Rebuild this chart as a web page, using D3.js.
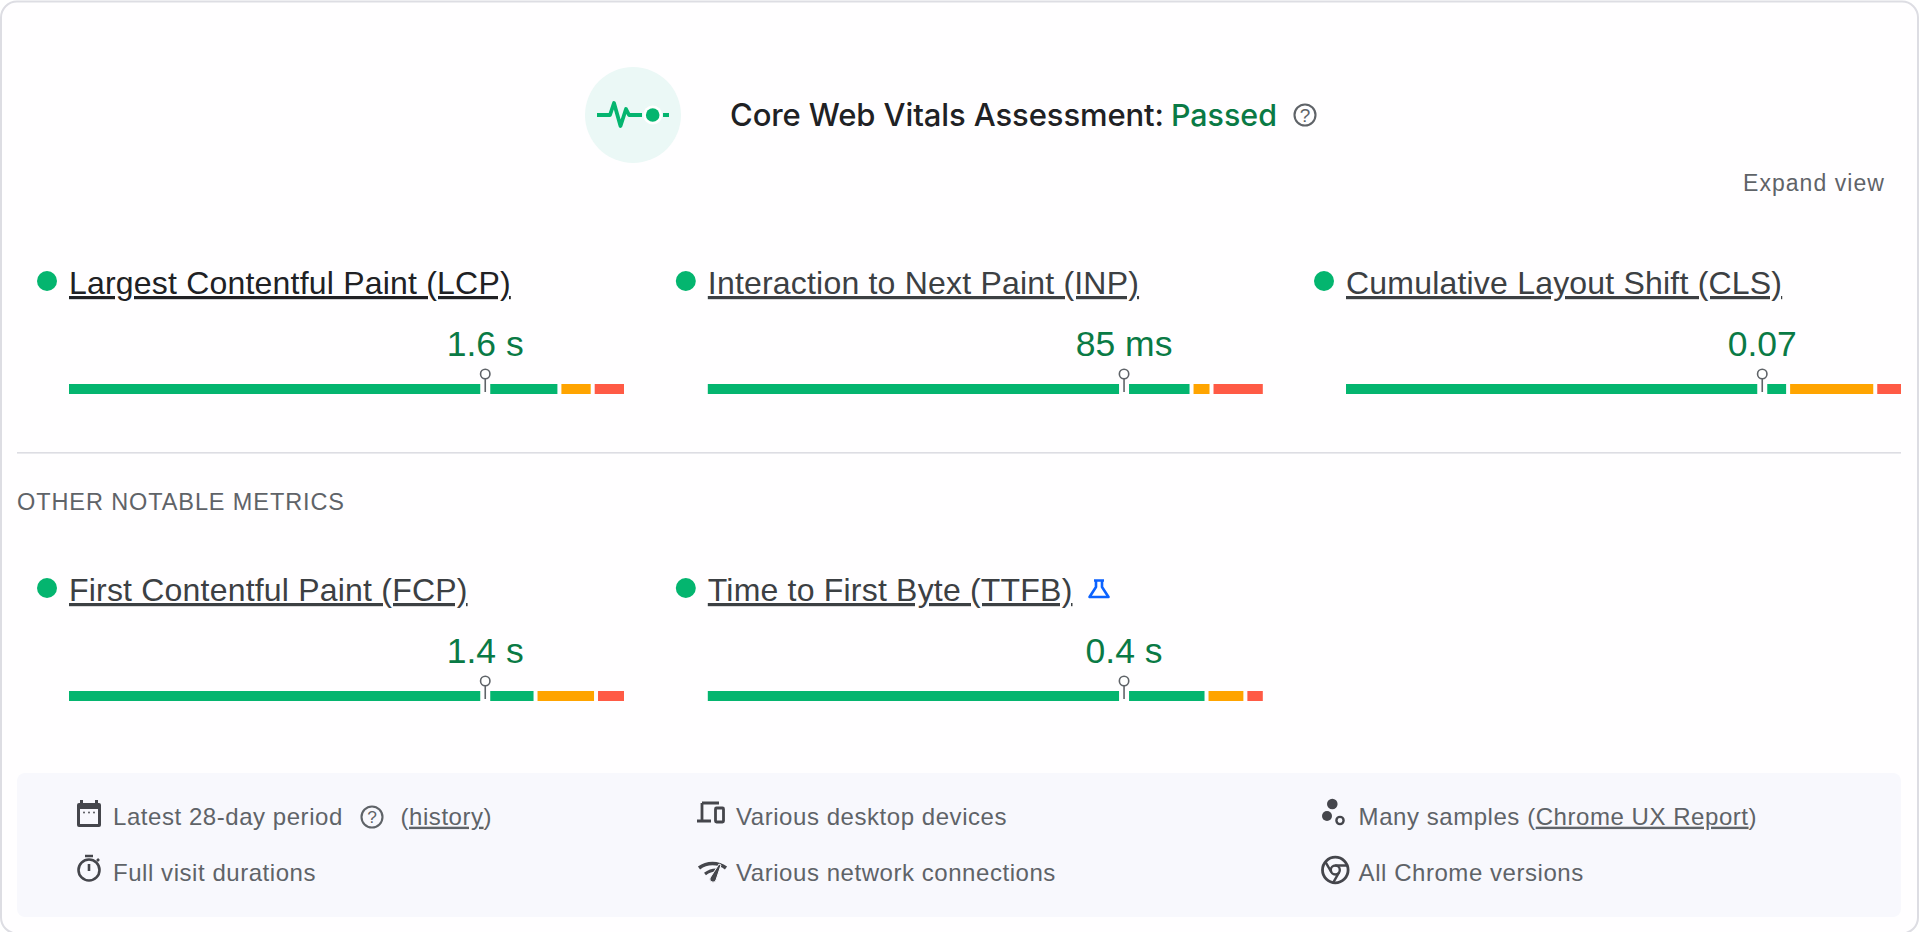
<!DOCTYPE html>
<html lang="en">
<head>
  <meta charset="UTF-8">
  <title>Core Web Vitals</title>
  <style>
    html, body { margin: 0; padding: 0; background: #fff; overflow: hidden; }
    svg { display: block; }
    text { font-family: "Liberation Sans", Arial, sans-serif; }
    .ul { text-decoration: underline; text-decoration-thickness: 2.4px; text-underline-offset: 3.5px; }
  </style>
</head>
<body>
<svg width="1920" height="932"></svg>

<script src="https://cdn.jsdelivr.net/npm/d3@7"></script>
<script>
  // data
  var metricNames = ["Largest Contentful Paint (LCP)", "Interaction to Next Paint (INP)", "Cumulative Layout Shift (CLS)", "First Contentful Paint (FCP)", "Time to First Byte (TTFB)"];
  var metricValues = ["1.6 s", "85 ms", "0.07", "1.4 s", "0.4 s"];
  var goodShare = [88, 86.8, 79.3, 83.7, 89.5];
  var improveShare = [6, 3.6, 15.7, 10.9, 7];
  var poorShare = [6, 9.6, 5, 5.4, 3.5];
  var percentile = 75;

  // layout
  var colX = [69, 707.8, 1346], rowBarY = [384, 691], barW = 555, barH = 10;
  var green = "#04b56f", orange = "#ffa400", red = "#ff5a45", valueGreen = "#0a7a45", grey = "#5f6368", dark = "#45464c";
  var x = d3.scaleLinear().domain([0, 100]).range([0, barW]);
  var footSize = 24, footGap = 0.55;

  var svg = d3.select("svg");

  function txt(g, s, px, py, size, fill, spacing) {
    return g.append("text").attr("x", px).attr("y", py).attr("font-size", size)
      .attr("fill", fill).attr("letter-spacing", spacing || 0).text(s);
  }

  // card
  svg.append("rect").attr("x", 1).attr("y", 1.5).attr("width", 1917).attr("height", 932).attr("rx", 16)
    .attr("fill", "#fffeff").attr("stroke", "#dddde3").attr("stroke-width", 2);

  // header
  var head = svg.append("g");
  head.append("circle").attr("cx", 633).attr("cy", 115).attr("r", 48).attr("fill", "#ebf8f6");
  head.append("path").attr("d", d3.line()([[597, 115], [610, 115], [614, 103], [620.5, 126], [626, 109], [629, 115], [642, 115]]))
    .attr("fill", "none").attr("stroke", green).attr("stroke-width", 3.8).attr("stroke-linejoin", "round");
  head.append("circle").attr("cx", 652.7).attr("cy", 115).attr("r", 9.5).attr("fill", "#fff");
  head.append("circle").attr("cx", 652.7).attr("cy", 115).attr("r", 6.8).attr("fill", green);
  head.append("rect").attr("x", 663).attr("y", 113).attr("width", 6).attr("height", 4).attr("fill", green);

  txt(head, "Core Web Vitals Assessment:", 730, 126, 31, "#202124", -0.1).attr("font-weight", 500).style("font-family", "Inter");
  txt(head, "Passed", 1171, 126, 30.4, valueGreen, 0).attr("font-weight", 500).style("font-family", "Inter");
  helpIcon(head, 1305, 115, 10.5, 23);
  txt(svg, "Expand view", 1743, 191, 23, grey, 1.05);

  // bars
  var metric = svg.selectAll("g.metric").data(metricNames).enter().append("g").attr("class", "metric")
    .attr("transform", function (d, i) { return "translate(" + colX[i % 3] + "," + rowBarY[Math.floor(i / 3)] + ")"; });

  metric.append("circle").attr("cx", -22).attr("cy", -103).attr("r", 10).attr("fill", green);
  metric.append("text").attr("class", "ul").attr("x", 0).attr("y", -90).attr("font-size", 32).attr("letter-spacing", 0.2)
    .attr("fill", function (d, i) { return i == 0 ? "#202124" : "#3c4043"; }).text(function (d) { return d; });
  metric.append("text").attr("x", x(percentile)).attr("y", -28).attr("text-anchor", "middle")
    .attr("font-size", 35.5).attr("fill", valueGreen)
    .text(function (d, i) { return metricValues[i]; });

  metric.each(function (d, i) {
    var g = d3.select(this);
    var a = goodShare[i], b = a + improveShare[i], c = b + poorShare[i];
    // good part is split around the percentile marker
    var segs = [
      [0, x(percentile) - 5, green],
      [x(percentile) + 5, x(a), green],
      [x(a) + 4, x(b), orange],
      [x(b) + 4, x(c), red]
    ];
    g.selectAll("rect").data(segs).enter().append("rect")
      .attr("x", function (s) { return s[0]; }).attr("y", 0)
      .attr("width", function (s) { return s[1] - s[0]; }).attr("height", barH)
      .attr("fill", function (s) { return s[2]; });
    g.append("line").attr("x1", x(percentile)).attr("x2", x(percentile)).attr("y1", -5).attr("y2", 8)
      .attr("stroke", grey).attr("stroke-width", 1.6);
    g.append("circle").attr("cx", x(percentile)).attr("cy", -10).attr("r", 4.7)
      .attr("fill", "#fff").attr("stroke", grey).attr("stroke-width", 1.6);
  });

  // flask next to TTFB
  svg.append("path").attr("d", "M1094 580.5h10M1096 581v6l-6.5 10h19l-6.5-10v-6")
    .attr("fill", "none").attr("stroke", "#0b62ff").attr("stroke-width", 2.6).attr("stroke-linejoin", "round");

  // divider + sub heading
  svg.append("rect").attr("x", 17).attr("y", 452).attr("width", 1884).attr("height", 1.6).attr("fill", "#dddde3");
  txt(svg, "OTHER NOTABLE METRICS", 17, 509.5, 23.5, grey, 0.9);

  // footer panel
  svg.append("rect").attr("x", 17).attr("y", 773).attr("width", 1884).attr("height", 144).attr("rx", 8).attr("fill", "#f8f8fd");

  var foot = svg.append("g");
  var row1 = 824.7, row2 = 881;
  txt(foot, "Latest 28-day period", 113, row1, footSize, grey, footGap);
  helpIcon(foot, 372, 817, 10.5, 21);
  var hist = txt(foot, "(", 400.5, row1, footSize, grey, footGap);
  hist.append("tspan").attr("class", "ul").text("history");
  hist.append("tspan").text(")");
  txt(foot, "Full visit durations", 113, row2, footSize, grey, footGap);
  txt(foot, "Various desktop devices", 736, row1, footSize, grey, footGap);
  txt(foot, "Various network connections", 736, row2, footSize, grey, footGap);
  var many = txt(foot, "Many samples (", 1358.6, row1, footSize, grey, footGap);
  many.append("tspan").attr("class", "ul").text("Chrome UX Report");
  many.append("tspan").text(")");
  txt(foot, "All Chrome versions", 1358.6, row2, footSize, grey, footGap);

  // calendar
  foot.append("path").attr("fill", dark).attr("fill-rule", "evenodd")
    .attr("d", "M80 800h3v3h12v-3h3v3h1a2 2 0 0 1 2 2v20a2 2 0 0 1-2 2H79a2 2 0 0 1-2-2V805a2 2 0 0 1 2-2h1zM80 809v15h18v-15z");
  foot.selectAll("circle.cal").data([84, 89, 94]).enter().append("circle").attr("class", "cal")
    .attr("cx", function (d) { return d; }).attr("cy", 812.5).attr("r", 0.9).attr("fill", dark);
  // stopwatch
  foot.append("circle").attr("cx", 89).attr("cy", 870).attr("r", 10.5).attr("fill", "none").attr("stroke", dark).attr("stroke-width", 2.6);
  foot.append("path").attr("d", "M85 856h8M89 864v7M97 861l2-2").attr("stroke", dark).attr("stroke-width", 2.6).attr("fill", "none");
  // devices
  foot.append("path").attr("d", "M702 803h17M702 803v18M697 821h14").attr("fill", "none").attr("stroke", dark).attr("stroke-width", 2.8);
  foot.append("rect").attr("x", 715.5).attr("y", 808).attr("width", 8).attr("height", 14).attr("rx", 1).attr("fill", "none").attr("stroke", dark).attr("stroke-width", 2.8);
  // network: two fan arcs and a needle
  foot.append("path").attr("d", "M699 868c8-6 19-6 27 0").attr("fill", "none").attr("stroke", dark).attr("stroke-width", 3.6);
  foot.append("path").attr("d", "M705 874c4-3 8-4 11-4").attr("fill", "none").attr("stroke", dark).attr("stroke-width", 3.2);
  foot.append("path").attr("d", "M710 878l9-14 2 1-5 15a3 3 0 0 1-6-2z").attr("fill", dark).attr("stroke", "#f8f8fd").attr("stroke-width", 1);
  // samples
  foot.append("circle").attr("cx", 1332.3).attr("cy", 804).attr("r", 5.3).attr("fill", dark);
  foot.append("circle").attr("cx", 1327).attr("cy", 816).attr("r", 5).attr("fill", dark);
  foot.append("circle").attr("cx", 1340).attr("cy", 820.5).attr("r", 3.6).attr("fill", "none").attr("stroke", dark).attr("stroke-width", 2.4);
  // chrome
  foot.append("circle").attr("cx", 1335.3).attr("cy", 870).attr("r", 12.8).attr("fill", "none").attr("stroke", dark).attr("stroke-width", 2.8);
  foot.append("circle").attr("cx", 1335.3).attr("cy", 870).attr("r", 4.5).attr("fill", "none").attr("stroke", dark).attr("stroke-width", 2.4);
  foot.append("path").attr("d", "M1335.3 865.5h12M1331.4 872.2l-6-10.4M1339.2 872.2l-6 10.4").attr("fill", "none").attr("stroke", dark).attr("stroke-width", 2.4);

  function helpIcon(g, cx, cy, r, fs) {
    g.append("circle").attr("cx", cx).attr("cy", cy).attr("r", r).attr("fill", "none").attr("stroke", grey).attr("stroke-width", 2.1);
    g.append("text").attr("x", cx).attr("y", cy + fs * 0.3).attr("text-anchor", "middle").attr("font-size", fs * 0.78 + 1).attr("fill", grey).text("?");
  }
</script>
</body>
</html>
